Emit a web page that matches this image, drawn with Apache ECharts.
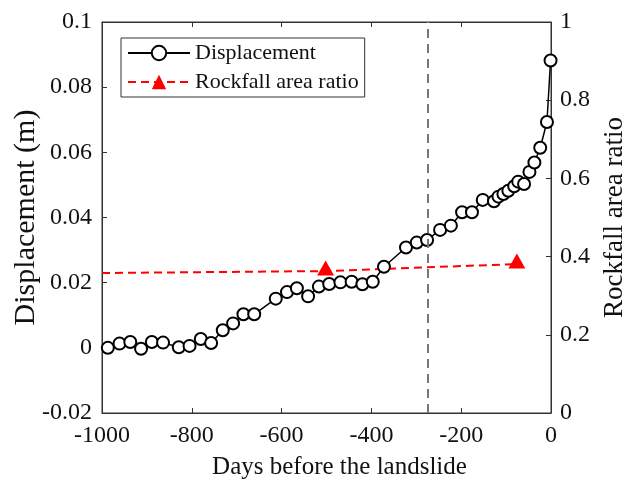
<!DOCTYPE html>
<html>
<head>
<meta charset="utf-8">
<script src="https://cdn.jsdelivr.net/npm/echarts@6/dist/echarts.min.js"></script>
<style>
  html, body { margin: 0; padding: 0; background: #fff; }
  #chart { width: 626px; height: 481px; }
</style>
</head>
<body>
<div id="chart"></div>
<script>
// displacement record (days before landslide, metres)
const days = [-987, -961, -937, -913, -889, -864, -829, -805, -780, -757,
  -731, -708, -685, -661, -613, -588, -566, -541, -517, -494,
  -469, -444, -420, -397, -372, -323, -299, -276, -247, -223,
  -198, -176, -152, -127, -117, -106, -95, -82, -73, -60,
  -48, -37, -24, -9, -1];
const displacement = [0.0000, 0.0013, 0.0018, -0.0003, 0.0018, 0.0016, 0.0002, 0.0006, 0.0027, 0.0015,
  0.0054, 0.0075, 0.0103, 0.0103, 0.0151, 0.0171, 0.0183, 0.0158, 0.0188, 0.0196,
  0.0201, 0.0203, 0.0195, 0.0203, 0.0249, 0.0308, 0.0323, 0.0331, 0.0362, 0.0375,
  0.0416, 0.0416, 0.0454, 0.0450, 0.0464, 0.0472, 0.0482, 0.0496, 0.0510, 0.0503,
  0.0540, 0.0569, 0.0614, 0.0693, 0.0882];

// rockfall area ratio; first entry is only the start of the dashed line
const rockDays = [-1000, -502, -76];
const rockRatio = [0.358, 0.363, 0.381];
const rockMarked = [false, true, true];

const markerDay = -275;

const font = "'Liberation Serif', 'Times New Roman', serif";
const chart = echarts.init(document.getElementById("chart"));

const axisLine = { show: true, onZero: false, lineStyle: { color: "#333", width: 1 } };
const tick = { show: true, inside: true, length: 5, lineStyle: { color: "#333" } };
const label = { fontFamily: font, fontSize: 24, color: "#111" };

const option = {
  animation: false,
  backgroundColor: "#fff",
  textStyle: { fontFamily: font },
  grid: {
    left: 102, right: 75, top: 22, bottom: 68,
    containLabel: false, outerBoundsMode: "none",
    show: true, borderColor: "#333", borderWidth: 1, backgroundColor: "transparent",
  },
  legend: {
    orient: "vertical",
    left: 121,
    top: 38,
    padding: [4, 6, 4, 6],
    itemGap: 7,
    itemWidth: 62,
    itemHeight: 18,
    borderColor: "#333",
    borderWidth: 1,
    textStyle: { fontFamily: font, fontSize: 22, color: "#111" },
    data: ["Displacement", "Rockfall area ratio"],
  },
  xAxis: [
    {
      type: "value",
      min: -1000,
      max: 0,
      interval: 200,
      name: "Days before the landslide",
      nameLocation: "middle",
      nameGap: 42,
      nameMoveOverlap: false,
      nameTextStyle: { fontFamily: font, fontSize: 25, color: "#111", padding: [0, 0, 0, 26] },
      axisLine: axisLine,
      axisTick: tick,
      axisLabel: Object.assign({ margin: 11, formatter: (v) => String(v) }, label),
      splitLine: { show: false },
    },
    {
      type: "value",
      position: "top",
      min: -1000,
      max: 0,
      interval: 200,
      axisLine: axisLine,
      axisTick: tick,
      axisLabel: { show: false },
      splitLine: { show: false },
    },
  ],
  yAxis: [
    {
      type: "value",
      min: -0.02,
      max: 0.1,
      interval: 0.02,
      name: "Displacement (m)",
      nameLocation: "middle",
      nameRotate: 90,
      nameGap: 61,
      nameMoveOverlap: false,
      nameTextStyle: { fontFamily: font, fontSize: 30, color: "#111" },
      axisLine: axisLine,
      axisTick: tick,
      axisLabel: Object.assign({ margin: 10 }, label),
      splitLine: { show: false },
    },
    {
      type: "value",
      position: "right",
      min: 0,
      max: 1,
      interval: 0.2,
      name: "Rockfall area ratio",
      nameLocation: "middle",
      nameRotate: 90,
      nameGap: 50,
      nameMoveOverlap: false,
      nameTextStyle: { fontFamily: font, fontSize: 27, color: "#111" },
      axisLine: axisLine,
      axisTick: tick,
      axisLabel: Object.assign({ margin: 9 }, label),
      splitLine: { show: false },
    },
  ],
  series: [
    {
      name: "Displacement",
      type: "line",
      xAxisIndex: 0,
      yAxisIndex: 0,
      data: days.map((d, i) => [d, displacement[i]]),
      symbol: "emptyCircle",
      symbolSize: 12,
      showAllSymbol: true,
      itemStyle: { color: "#000", borderColor: "#000", borderWidth: 1.5 },
      lineStyle: { color: "#000", width: 1.5 },
      z: 3,
      markLine: {
        silent: true,
        symbol: ["none", "none"],
        label: { show: false },
        lineStyle: { color: "#777", width: 2, type: [9, 6] },
        data: [{ xAxis: markerDay }],
      },
    },
    {
      name: "Rockfall area ratio",
      type: "line",
      xAxisIndex: 0,
      yAxisIndex: 1,
      data: rockDays.map((d, i) =>
        rockMarked[i] ? { value: [d, rockRatio[i]] } : { value: [d, rockRatio[i]], symbol: "none" }
      ),
      symbol: "triangle",
      symbolSize: [17, 15],
      symbolOffset: [0, -3],
      showAllSymbol: true,
      itemStyle: { color: "#f00" },
      lineStyle: { color: "#f00", width: 2, type: [8, 5] },
      z: 2,
    },
  ],
};

chart.setOption(option);
</script>
</body>
</html>
